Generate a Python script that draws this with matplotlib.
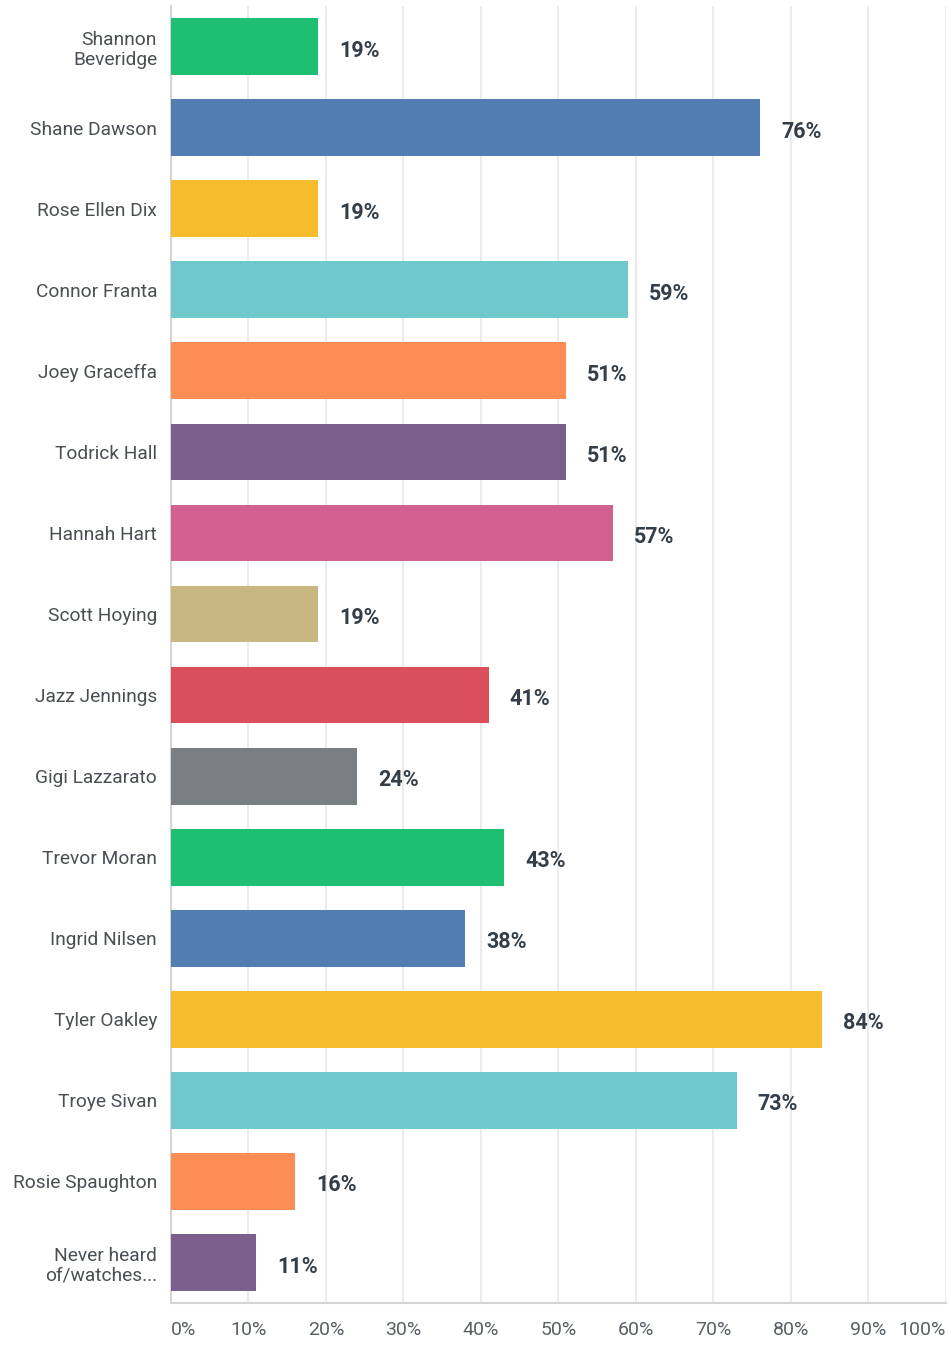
import numpy as np
import matplotlib.pyplot as plt

names = [
    "Shannon\nBeveridge", "Shane Dawson", "Rose Ellen Dix", "Connor Franta",
    "Joey Graceffa", "Todrick Hall", "Hannah Hart", "Scott Hoying",
    "Jazz Jennings", "Gigi Lazzarato", "Trevor Moran", "Ingrid Nilsen",
    "Tyler Oakley", "Troye Sivan", "Rosie Spaughton", "Never heard\nof/watches...",
]
percent = [19, 76, 19, 59, 51, 51, 57, 19, 41, 24, 43, 38, 84, 73, 16, 11]
tick_values = [0, 10, 20, 30, 40, 50, 60, 70, 80, 90, 100]

palette = ["#1fbf72", "#517db3", "#f6bc2d", "#6fc8cb", "#fe8c55",
           "#7c5e8c", "#d26090", "#c8b780", "#db4e5c", "#7a7f83"]
colors = [palette[i % len(palette)] for i in range(len(names))]

plt.rcParams["font.family"] = ["Roboto", "DejaVu Sans"]

fig = plt.figure(figsize=(9.51, 13.45), dpi=100)
ax = fig.add_axes([0.1798, 0.0312, 0.8149, 0.9643])

y = np.arange(len(names))
ax.barh(y, percent, height=0.70, color=colors, zorder=3)

# percentage labels just right of each bar
for yi, v in zip(y, percent):
    ax.text(v + 2.7, yi + 0.05, f"{v}%", va="center", ha="left", fontsize=15.5,
            fontweight="bold", color="#333e48", zorder=4)

ax.set_xlim(0, 100)
ax.set_ylim(len(names) - 0.5, -0.5)
ax.set_yticks(y)
ax.set_yticklabels(names, fontsize=13.8, color="#4a4f55", linespacing=1.15)
ax.set_xticks(tick_values)
ax.set_xticklabels([f"{t}%" for t in tick_values], fontsize=14, color="#5a6068")
ax.get_xticklabels()[0].set_horizontalalignment("left")
ax.get_xticklabels()[-1].set_horizontalalignment("right")

ax.tick_params(axis="both", length=0)
ax.tick_params(axis="x", pad=13)
ax.tick_params(axis="y", pad=10)

ax.grid(axis="x", color="#e8e8e8", linewidth=1.2, zorder=0)
for side in ["top", "right"]:
    ax.spines[side].set_visible(False)
ax.spines["left"].set_color("#d4d4d4")
ax.spines["bottom"].set_color("#d4d4d4")
ax.spines["left"].set_linewidth(1.5)
ax.spines["bottom"].set_linewidth(1.5)

fig.savefig("out.png", dpi=100)
